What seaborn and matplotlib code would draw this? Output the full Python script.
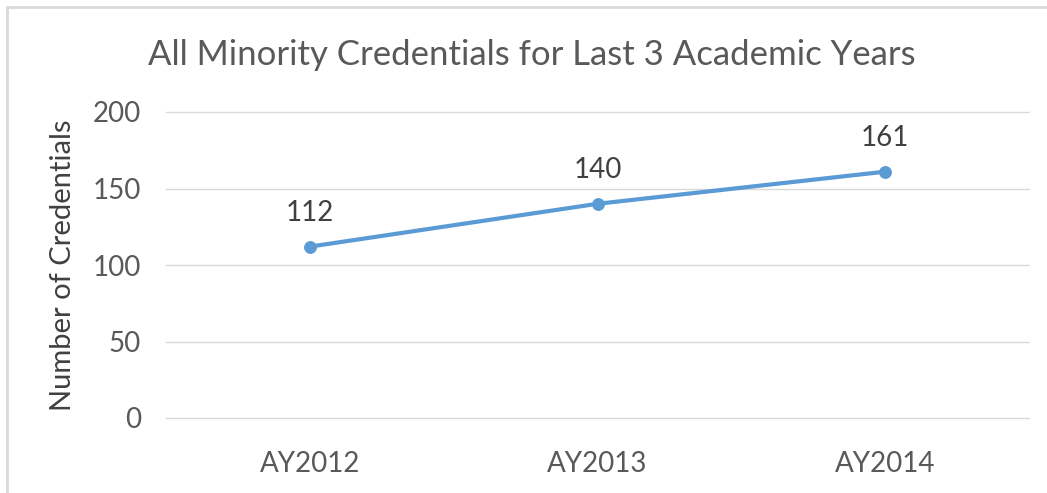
import matplotlib
matplotlib.use("Agg")
import matplotlib.pyplot as plt
import seaborn as sns
import pandas as pd
from matplotlib.patches import Rectangle

years = ["AY2012", "AY2013", "AY2014"]
credentials = [112, 140, 161]
y_ticks = [0, 50, 100, 150, 200]

sns.set_theme(style="white")
plt.rcParams['font.family'] = ['Lato', 'DejaVu Sans']

df = pd.DataFrame({"year": years, "credentials": credentials})

fig = plt.figure(figsize=(10.47, 4.93), dpi=100)
ax = fig.add_axes([166/1047, 1-418/493, (1029-166)/1047, (418-112)/493])

color = "#5B9BD5"
sns.lineplot(data=df, x="year", y="credentials", ax=ax, color=color, linewidth=3,
             marker="o", markersize=8.5, markeredgecolor=color, sort=False)

for i, v in enumerate(credentials):
    ax.annotate(str(v), (i, v), xytext=(0, 15), textcoords="offset points",
                ha="center", va="bottom", fontsize=20, color="#404040")

ax.set_xlim(-0.5, 2.5)
ax.set_ylim(0, 200)
ax.set_yticks(y_ticks)
ax.yaxis.grid(True, color="#D9D9D9", linewidth=1)
for gl in ax.yaxis.get_gridlines():
    gl.set_clip_on(False)
ax.xaxis.grid(False)
for s in ax.spines.values():
    s.set_visible(False)
ax.tick_params(axis="both", length=0, labelsize=20, labelcolor="#595959")
ax.tick_params(axis="y", pad=18)
ax.tick_params(axis="x", pad=24)
ax.set_xlabel("")
ax.set_ylabel("Number of Credentials", fontsize=21, color="#404040", labelpad=12)

fig.text(532/1047, 1-55/493, "All Minority Credentials for Last 3 Academic Years",
         ha="center", va="center", fontsize=25, color="#595959")

fig.patches.append(Rectangle((7/1047, -0.1), 1.2, 1-7/493+0.1, transform=fig.transFigure,
                             fill=False, edgecolor="#D9D9D9", linewidth=2))

fig.savefig("out.png", dpi=100)
